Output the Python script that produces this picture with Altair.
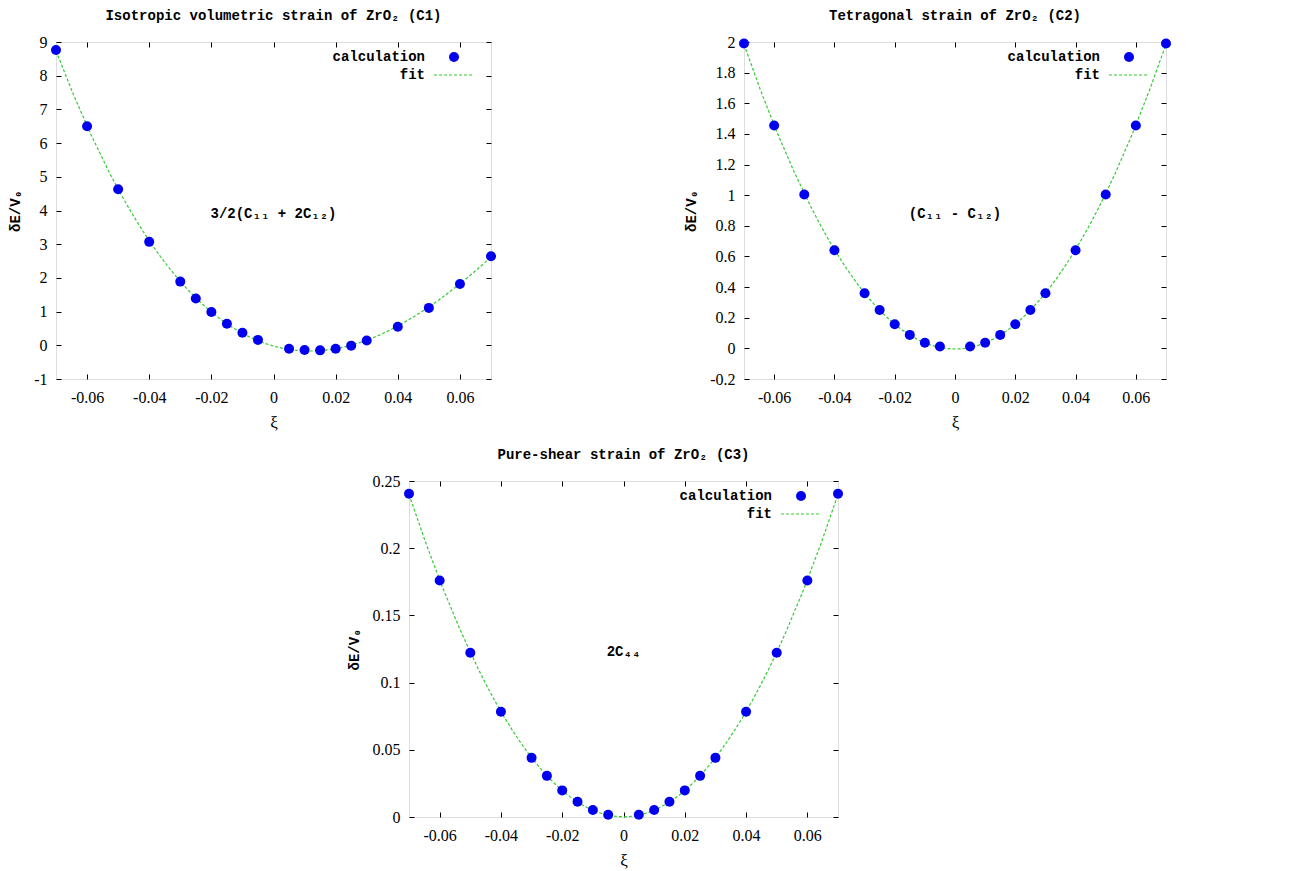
import altair as alt
import pandas as pd

# ---------------- data ----------------
xi = [-0.07, -0.06, -0.05, -0.04, -0.03, -0.025, -0.02, -0.015, -0.01, -0.005,
      0.005, 0.01, 0.015, 0.02, 0.025, 0.03, 0.04, 0.05, 0.06, 0.07]

c1_E = [8.76, 6.50, 4.63, 3.07, 1.89, 1.39, 0.99, 0.64, 0.37, 0.16,
        -0.10, -0.14, -0.15, -0.10, -0.01, 0.14, 0.55, 1.11, 1.82, 2.64]
c2_E = [1.99, 1.455, 1.005, 0.64, 0.36, 0.25, 0.158, 0.088, 0.037, 0.012,
        0.012, 0.037, 0.088, 0.158, 0.25, 0.36, 0.64, 1.005, 1.455, 1.99]
c3_E = [0.2405, 0.176, 0.1222, 0.0783, 0.0440, 0.0306, 0.0198, 0.0114, 0.0052, 0.0017,
        0.0017, 0.0052, 0.0114, 0.0198, 0.0306, 0.0440, 0.0783, 0.1222, 0.176, 0.2405]

x_ticks = [-0.06, -0.04, -0.02, 0, 0.02, 0.04, 0.06]
c1_yticks = [-1, 0, 1, 2, 3, 4, 5, 6, 7, 8, 9]
c2_yticks = [-0.2, 0, 0.2, 0.4, 0.6, 0.8, 1, 1.2, 1.4, 1.6, 1.8, 2]
c3_yticks = [0, 0.05, 0.1, 0.15, 0.2, 0.25]

titles = ["Isotropic volumetric strain of ZrO\u2082 (C1)",
          "Tetragonal strain of ZrO\u2082 (C2)",
          "Pure-shear strain of ZrO\u2082 (C3)"]
notes = ["3/2(C\u2081\u2081 + 2C\u2081\u2082)", "(C\u2081\u2081 - C\u2081\u2082)", "2C\u2084\u2084"]
legend_labels = ["calculation", "fit"]

MONO = "Liberation Mono, DejaVu Sans Mono, monospace"
SERIF = "Liberation Serif, DejaVu Serif, serif"
BLUE = "#0000ee"
GREEN = "#33cc33"
TICK = 5
LABEL_EXPR = "replace(format(datum.value, '~g'), '\u2212', '-')"


def panel(E, ydom, yticks, title, note, fit_order, w, h):
    df = pd.DataFrame({"xi": xi, "E": E})
    xs = alt.Scale(domain=[-0.07, 0.07], nice=False, zero=False)
    ys = alt.Scale(domain=ydom, nice=False, zero=False)

    def ax(orient, labels, values):
        kw = dict(orient=orient, values=values, domain=False, grid=False,
                  tickSize=TICK, offset=-TICK, tickColor="black", tickWidth=1,
                  labels=labels, labelFont=SERIF, labelFontSize=16,
                  labelColor="black", labelExpr=LABEL_EXPR)
        if orient == "left":
            kw.update(title="\u03b4E/V\u2080", titleFont=MONO, titleFontSize=14,
                      titleFontWeight="bold", titleColor="black",
                      labelPadding=9, titlePadding=11)
        elif orient == "bottom":
            kw.update(title="\u03be", titleFont=SERIF, titleFontSize=17,
                      titleFontWeight="normal", titleColor="black",
                      labelPadding=10, titlePadding=9)
        else:
            kw.update(title=None)
        return alt.Axis(**kw)

    base = alt.Chart(df)
    fit = base.transform_regression("xi", "E", method="poly", order=fit_order).mark_line(
        color=GREEN, strokeWidth=1.2, strokeDash=[3, 2]
    ).encode(
        x=alt.X("xi:Q", scale=xs, axis=ax("top", False, x_ticks)),
        y=alt.Y("E:Q", scale=ys, axis=ax("right", False, yticks)),
    )
    pts = base.mark_circle(color=BLUE, opacity=1, size=100).encode(
        x=alt.X("xi:Q", scale=xs, axis=ax("bottom", True, x_ticks)),
        y=alt.Y("E:Q", scale=ys, axis=ax("left", True, yticks)),
    )
    txt = dict(font=MONO, fontSize=14, fontWeight="bold", color="black", baseline="middle")
    note_t = alt.Chart(pd.DataFrame({"t": [note]})).mark_text(align="center", **txt).encode(
        text="t:N", x=alt.value(w / 2), y=alt.value(h / 2 + 3))
    leg1 = alt.Chart(pd.DataFrame({"t": [legend_labels[0]]})).mark_text(align="right", **txt).encode(
        text="t:N", x=alt.value(w - 66), y=alt.value(15))
    leg2 = alt.Chart(pd.DataFrame({"t": [legend_labels[1]]})).mark_text(align="right", **txt).encode(
        text="t:N", x=alt.value(w - 66), y=alt.value(33))
    leg_p = alt.Chart(pd.DataFrame({"t": [legend_labels[0]]})).mark_circle(
        color=BLUE, opacity=1, size=100).encode(x=alt.value(w - 37), y=alt.value(15))
    leg_l = alt.Chart(pd.DataFrame({"t": [legend_labels[1]]})).mark_rule(
        color=GREEN, strokeWidth=1.2, strokeDash=[3, 2]
    ).encode(x=alt.value(w - 57), x2=alt.value(w - 18), y=alt.value(33))

    return alt.layer(fit, pts, note_t, leg1, leg2, leg_p, leg_l).resolve_axis(
        x="independent", y="independent"
    ).properties(
        width=w, height=h,
        title=alt.TitleParams(title, font=MONO, fontSize=14, fontWeight="bold",
                              color="black", offset=11, frame="group", anchor="middle"),
    )


p1 = panel(c1_E, [-1, 9], c1_yticks, titles[0], notes[0], 3, 435, 337)
p2 = panel(c2_E, [-0.2, 2], c2_yticks, titles[1], notes[1], 2, 422, 337)
p3 = panel(c3_E, [0, 0.25], c3_yticks, titles[2], notes[2], 2, 429, 336)

spacer = alt.Chart(pd.DataFrame({"a": [0]})).mark_point(opacity=0, size=1).encode(
    x=alt.value(5), y=alt.value(5)
).properties(width=10, height=336, view=alt.ViewBackground(strokeOpacity=0))

top = alt.hconcat(p1, p2, spacing=253, bounds="flush")
bottom = alt.hconcat(spacer, p3, spacing=343, bounds="flush")
chart = alt.vconcat(top, bottom, spacing=16).properties(padding=0).configure_view(
    stroke="black", strokeWidth=1
).configure(background="white")

chart.save("out.html", embed_options={"renderer": "svg", "actions": False})
